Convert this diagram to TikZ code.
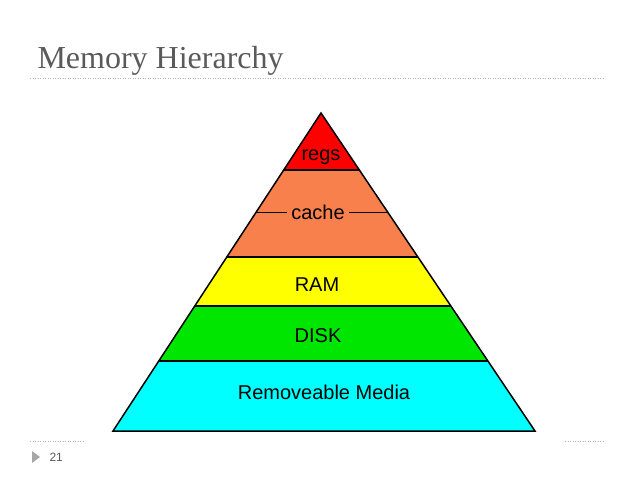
\documentclass[tikz,border=0pt]{standalone}
\usepackage{fontspec}
\setmainfont{Liberation Sans}
\newfontfamily\titlefont{Liberation Serif}
\begin{document}
\begin{tikzpicture}[x=1pt,y=-1pt,
  lab/.style={font=\fontsize{20}{20}\selectfont, inner sep=1pt},
  dotline/.style={draw=gray!60, line width=0.8pt, dash pattern=on 1pt off 1.5pt}]
\useasboundingbox (0,0) rectangle (638,479);
\definecolor{regsc}{RGB}{255,0,0}
\definecolor{cachec}{RGB}{247,128,77}
\definecolor{ramc}{RGB}{255,255,0}
\definecolor{diskc}{RGB}{0,230,0}
\definecolor{mediac}{RGB}{0,255,255}
\definecolor{titlec}{RGB}{90,90,90}
\coordinate (apex) at (321,113);
\coordinate (bl) at (113,431);
\coordinate (br) at (535,431);
\begin{scope}
\clip (apex) -- (bl) -- (br) -- cycle;
\fill[regsc] (100,100) rectangle (550,170);
\fill[cachec] (100,170) rectangle (550,257);
\fill[ramc] (100,257) rectangle (550,306);
\fill[diskc] (100,306) rectangle (550,361);
\fill[mediac] (100,361) rectangle (550,432);
\draw[line width=1.5pt] (100,170) -- (550,170) (100,257) -- (550,257)
  (100,306) -- (550,306) (100,361) -- (550,361);
\end{scope}
\draw[line width=1.5pt, line join=miter] (apex) -- (bl) -- (br) -- cycle;
\node[lab] (regs) at (321,157) {regs};
\node[lab, inner xsep=4pt] (cache) at (318,212) {cache};
\coordinate (cl) at (256,212);
\coordinate (cr) at (388,212);
\draw[line width=0.6pt] (cl) -- (cache.west);
\draw[line width=0.6pt] (cache.east) -- (cr);
\node[lab] (ram) at (317,285) {RAM};
\node[lab] (disk) at (318,336) {DISK};
\node[lab] (media) at (324,392) {Removeable Media};
\node[anchor=west, text=titlec, font=\titlefont\fontsize{32}{32}\selectfont] (title) at (34,61) {Memory Hierarchy};
\draw[dotline] (30,78) -- (605,78);
\draw[dotline] (30,441) -- (85,441);
\draw[dotline] (565,441) -- (605,441);
\fill[gray!70] (32,451) -- (40,457) -- (32,463) -- cycle;
\node[anchor=west, text=titlec, font=\fontsize{12}{12}\selectfont] (num) at (46,457) {21};
\end{tikzpicture}
\end{document}
